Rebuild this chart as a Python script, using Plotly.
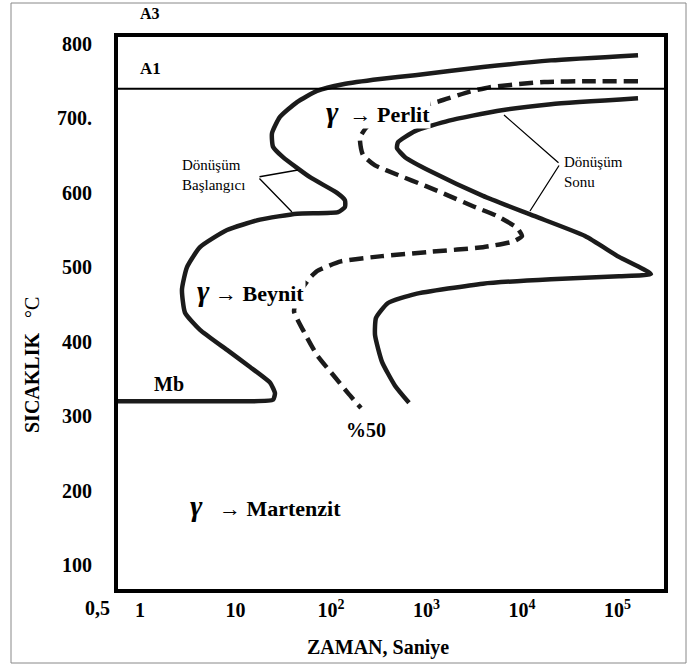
import numpy as np
import plotly.graph_objects as go

# ---------------- data (time in s, temperature in °C) ----------------
start_time = [164000, 20100, 3900, 758, 326, 133.6, 71.4, 44.1, 29.2, 24.1, 24.7, 31.4,
              60.3, 115.6, 140, 140, 118.4, 44.1, 18.05, 8.15, 4.25, 3.10, 2.75, 2.96,
              4.25, 8.15, 14.2, 23.0, 25.9, 24.7, 11.98, 2.44, 0.5]
start_temp = [785, 778, 769, 758, 753, 746, 737, 722, 702, 680, 662, 648,
              621, 600, 590, 581, 574, 572, 564, 550, 527, 500, 470, 439,
              416, 389, 366, 345, 331, 322, 320, 320, 320]

half_time = [164000, 52800, 17000, 4620, 2850, 1350, 596, 244, 201, 216, 289, 503,
             988, 1720, 3070, 5470, 8860, 10000, 8245, 3900, 1142, 342, 127, 71.4,
             60.3, 47.4, 41.0, 52.2, 71.4, 107.5, 150.7, 206]
half_temp = [750, 750, 749, 742, 736, 723, 711, 690, 674, 651, 637, 624,
             609, 596, 582, 569, 553, 542, 535, 527, 521, 515, 508, 495,
             486, 467, 441, 413, 382, 354, 331, 311]

end_time = [164000, 20100, 5470, 1720, 758, 503, 491, 596, 1142, 3900, 13360, 45700,
            103700, 224000, 103700, 20100, 3900, 758, 395, 296, 289, 342, 468, 656]
end_temp = [727, 719, 710, 697, 683, 668, 660, 648, 628, 596, 569, 542,
            514, 491, 488, 484, 478, 464, 452, 432, 409, 373, 341, 318]

A1_TEMP = 740

x_tickvals = [1, 10, 100, 1000, 10000, 100000]
x_ticktext = ["1", "10", "10<sup>2</sup>", "10<sup>3</sup>", "10<sup>4</sup>", "10<sup>5</sup>"]
y_tickvals = [100, 200, 300, 400, 500, 600, 700, 800]
y_ticktext = ["100", "200", "300", "400", "500", "600", "700.", "800"]

# ---------------- layout geometry ----------------
W, H = 690, 666
L, R, T, B = 118, 664, 37, 589  # plot box in pixels


def px(xp):
    return (xp - L) / (R - L)


def py(yp):
    return (B - yp) / (B - T)


SERIF = "Liberation Serif"
INK = "#1b1b1b"

fig = go.Figure()
fig.add_trace(go.Scatter(x=start_time, y=start_temp, mode="lines",
                         line=dict(color=INK, width=4.5, shape="spline", smoothing=0.5),
                         hoverinfo="skip", showlegend=False))
fig.add_trace(go.Scatter(x=half_time, y=half_temp, mode="lines",
                         line=dict(color=INK, width=4.5, dash="14px,7px", shape="spline", smoothing=0.5),
                         hoverinfo="skip", showlegend=False))
fig.add_trace(go.Scatter(x=end_time, y=end_temp, mode="lines",
                         line=dict(color=INK, width=4.5, shape="spline", smoothing=0.5),
                         hoverinfo="skip", showlegend=False))

fig.add_shape(type="line", xref="paper", yref="y", x0=0, x1=1, y0=A1_TEMP, y1=A1_TEMP,
              line=dict(color="black", width=2))
# outer frame
fig.add_shape(type="rect", xref="paper", yref="paper", x0=px(11), x1=px(686), y0=py(663), y1=py(3),
              line=dict(color="#888888", width=1), layer="below")

bold = dict(family=SERIF, size=20, color="black", weight="bold")
norm = dict(family=SERIF, size=15, color="black")

G = "<span style='font-size:30px'><i>γ</i></span>"
ARR = "<span style='font-weight:normal'>→</span>"


def lx(p):
    return (p - 140) / 95.5  # log10 time at pixel


def ty(p):
    return 800 - (p - 44) * 1.3435


ann = [
    dict(text="A3", xref="paper", yref="paper", x=px(150), y=py(14), font=dict(bold, size=16)),
    dict(text="A1", x=lx(150), y=ty(68), font=dict(bold, size=17)),
    dict(text="0,5", xref="paper", yref="paper", x=px(97), y=py(608), font=bold),
    dict(text=G + "  " + ARR + " Perlit", x=lx(325), y=ty(111), xanchor="left",
         font=dict(bold, size=22), bgcolor="white", borderpad=0),
    dict(text=G + " " + ARR + " Beynit", x=lx(195), y=ty(290), xanchor="left",
         font=dict(bold, size=22), bgcolor="white", borderpad=1),
    dict(text=G + "   " + ARR + " Martenzit", x=lx(188), y=ty(505), xanchor="left",
         font=dict(bold, size=22)),
    dict(text="Mb", x=lx(169), y=ty(384), font=bold),
    dict(text="%50", x=lx(366), y=ty(430), font=bold),
    dict(text="Dönüşüm<br>Başlangıcı", x=lx(180), y=ty(175), xanchor="left", align="left", font=norm),
    dict(text="Dönüşüm<br>Sonu", x=lx(562), y=ty(172), xanchor="left", align="left", font=norm),
    dict(text="ZAMAN, Saniye", xref="paper", yref="paper", x=px(378), y=py(647), font=bold),
    dict(text="SICAKLIK&nbsp;&nbsp; <span style='font-weight:normal'>°C</span>", xref="paper", yref="paper",
         x=px(32), y=py(365), textangle=-90, font=bold),
]
for a in ann:
    a.setdefault("showarrow", False)
    a.setdefault("xref", "x")
    a.setdefault("yref", "y")
    a.setdefault("xanchor", "center")
    a.setdefault("yanchor", "middle")
# leader lines
for (ex, ey), (jx, jy) in [((298, 170), (258, 177)), ((292, 212), (258, 177)),
                           ((504, 115), (560, 164)), ((530, 211), (560, 164))]:
    ann.append(dict(text="", x=lx(ex), y=ty(ey), ax=lx(jx), ay=ty(jy), axref="x", ayref="y",
                    showarrow=True, arrowhead=0, arrowwidth=1.3, arrowcolor="black"))

fig.update_layout(
    width=W, height=H,
    margin=dict(l=L, r=W - R, t=T, b=H - B),
    paper_bgcolor="white", plot_bgcolor="white",
    annotations=ann,
    xaxis=dict(type="log", range=[lx(L), lx(R)], tickvals=x_tickvals, ticktext=x_ticktext,
               showgrid=False, zeroline=False, showline=True, mirror=True, linewidth=4,
               linecolor="black", ticks="", tickfont=bold, ticklabelstandoff=0),
    yaxis=dict(range=[ty(B), ty(T)], tickvals=y_tickvals, ticktext=y_ticktext,
               showgrid=False, zeroline=False, showline=True, mirror=True, linewidth=4,
               linecolor="black", ticks="", tickfont=bold, ticklabelstandoff=18),
)

fig.write_html("out.html")
